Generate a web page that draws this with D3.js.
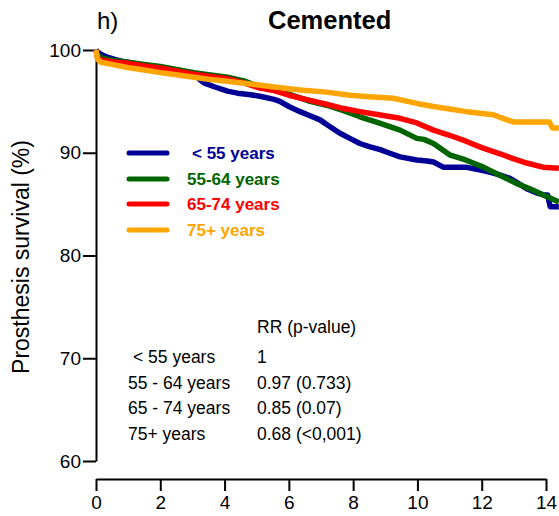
<!DOCTYPE html>
<html>
<head>
<meta charset="utf-8">
<script src="https://cdn.jsdelivr.net/npm/d3@7"></script>
<style>
	body { margin: 0; background: #fff; }
	svg { display: block; font-family: "Liberation Sans", Arial, sans-serif; }
</style>
</head>
<body>
<svg id="chart" width="559" height="516"></svg>
<script>
// Survival curves (years, % survival)
var groups = ["< 55 years", "55-64 years", "65-74 years", "75+ years"]
var colors = ["#000096", "#006400", "#ff0000", "#ffa500"]

var tYoung = [0, 0.05, 0.15, 0.35, 0.56, 0.8, 1.18, 1.6, 2.0, 2.4, 2.74, 3.05, 3.2, 3.36, 3.7, 4.09, 4.4, 4.81, 5.1, 5.54, 5.72, 6.0, 6.35, 6.66, 6.97, 7.2, 7.59, 7.9, 8.21, 8.5, 8.84, 9.1, 9.46, 9.98, 10.3, 10.5, 10.8, 11.5, 12.15, 12.5, 12.88, 13.1, 13.4, 13.7, 13.92, 14.05, 14.13, 14.4]
var vYoung = [100, 99.8, 99.6, 99.3, 99.1, 98.9, 98.7, 98.4, 98.15, 98.0, 97.9, 97.6, 97.2, 96.8, 96.4, 96.0, 95.8, 95.65, 95.5, 95.2, 95.0, 94.5, 94.0, 93.6, 93.2, 92.7, 91.9, 91.4, 90.9, 90.6, 90.3, 90.0, 89.6, 89.3, 89.2, 89.1, 88.6, 88.6, 88.2, 87.9, 87.5, 87.1, 86.5, 86.1, 85.9, 85.9, 84.75, 84.75]

var tMid = [0, 0.05, 0.2, 0.5, 1.0, 1.5, 2.0, 2.5, 3.05, 3.5, 4.09, 4.6, 5.1, 5.54, 6.0, 6.66, 7.2, 7.7, 8.21, 8.8, 9.46, 9.98, 10.2, 10.5, 11.0, 11.5, 12.05, 12.5, 13.09, 13.5, 13.92, 14.4]
var vMid = [100, 99.5, 99.2, 99.0, 98.8, 98.6, 98.4, 98.1, 97.8, 97.6, 97.35, 97.0, 96.4, 96.2, 95.7, 95.0, 94.6, 94.1, 93.5, 92.9, 92.2, 91.4, 91.3, 90.9, 89.8, 89.3, 88.6, 87.9, 87.0, 86.5, 85.9, 85.2]

var tOld = [0, 0.05, 0.2, 0.5, 1.0, 1.5, 2.0, 2.5, 3.05, 3.5, 4.09, 4.6, 5.1, 5.54, 6.0, 6.66, 7.2, 7.7, 8.21, 8.8, 9.46, 9.98, 10.5, 11.0, 11.53, 12.0, 12.57, 13.0, 13.4, 13.9, 14.4]
var vOld = [100, 99.2, 99.0, 98.85, 98.7, 98.45, 98.25, 97.95, 97.65, 97.45, 97.2, 96.8, 96.3, 96.05, 95.6, 95.1, 94.7, 94.3, 94.0, 93.7, 93.35, 92.9, 92.2, 91.7, 91.1, 90.5, 89.9, 89.4, 89.0, 88.6, 88.5]

var tOldest = [0, 0.05, 0.15, 0.5, 0.97, 1.5, 2.0, 2.5, 3.05, 3.5, 4.09, 4.8, 5.54, 6.35, 7.18, 7.9, 8.5, 9.25, 9.98, 10.5, 11.0, 11.53, 12.36, 12.7, 12.98, 13.5, 14.1, 14.2, 14.4]
var vOldest = [100, 99.1, 98.8, 98.6, 98.3, 98.05, 97.8, 97.6, 97.35, 97.15, 96.95, 96.7, 96.4, 96.1, 95.9, 95.6, 95.45, 95.3, 94.8, 94.5, 94.25, 94.0, 93.7, 93.3, 93.0, 93.0, 93.0, 92.4, 92.4]

var xTicks = [0, 2, 4, 6, 8, 10, 12, 14]
var yTicks = [60, 70, 80, 90, 100]

// risk ratio table
var tableRows = ["< 55 years", "55 - 64 years", "65 - 74 years", "75+ years"]
var tableValues = ["1", "0.97 (0.733)", "0.85 (0.07)", "0.68 (<0,001)"]

var svg = d3.select("#chart")

var x = d3.scaleLinear().domain([0, 14]).range([96, 546])
var y = d3.scaleLinear().domain([60, 100]).range([461, 50])

var series = [
	{ t: tYoung, v: vYoung },
	{ t: tMid, v: vMid },
	{ t: tOld, v: vOld },
	{ t: tOldest, v: vOldest }
].map(function (s, i) {
	return { name: groups[i], color: colors[i], points: s.t.map(function (t, j) { return [t, s.v[j]] }) }
})

// y axis
var yAxis = svg.append("g")
	.attr("transform", "translate(96,0)")
	.call(d3.axisLeft(y).tickValues(yTicks).tickSize(13).tickSizeOuter(0).tickPadding(2))
yAxis.selectAll("path, line").attr("stroke", "#000").attr("stroke-width", 2)
yAxis.selectAll("text").attr("font-size", 19).attr("font-family", "Liberation Sans, Arial, sans-serif").attr("fill", "#000")

// x axis, offset below the plot
var xAxis = svg.append("g")
	.attr("transform", "translate(0,479)")
	.call(d3.axisBottom(x).tickValues(xTicks).tickSize(12).tickSizeOuter(0).tickPadding(5))
xAxis.selectAll("path, line").attr("stroke", "#000").attr("stroke-width", 2)
xAxis.selectAll("text").attr("font-size", 19).attr("font-family", "Liberation Sans, Arial, sans-serif").attr("fill", "#000")

// curves (many tiny steps in the original, so a plain polyline through the read points)
var line = d3.line()
	.x(function (d) { return x(d[0]) })
	.y(function (d) { return y(d[1]) })
	.curve(d3.curveLinear)

svg.append("g").selectAll("path")
	.data(series)
	.enter()
	.append("path")
	.attr("d", function (d) { return line(d.points) })
	.attr("fill", "none")
	.attr("stroke", function (d) { return d.color })
	.attr("stroke-width", 5.5)
	.attr("stroke-linejoin", "round")

// titles
svg.append("text").attr("x", 97).attr("y", 29).attr("font-size", 24).text("h)")
svg.append("text").attr("x", 268).attr("y", 29).attr("font-size", 25.5).attr("font-weight", "bold").text("Cemented")
svg.append("text")
	.attr("transform", "translate(29,257) rotate(-90)")
	.attr("text-anchor", "middle")
	.attr("font-size", 23)
	.text("Prosthesis survival (%)")

// legend
var legendY = [153, 179, 204, 230]
var legend = svg.append("g").selectAll("g")
	.data(series)
	.enter()
	.append("g")
	.attr("transform", function (d, i) { return "translate(0," + legendY[i] + ")" })
legend.append("line")
	.attr("x1", 129).attr("x2", 167)
	.attr("stroke", function (d) { return d.color })
	.attr("stroke-width", 5)
	.attr("stroke-linecap", "round")
legend.append("text")
	.attr("x", function (d, i) { return i == 0 ? 192 : 187 })
	.attr("y", 6)
	.attr("font-size", 17)
	.attr("font-weight", "bold")
	.attr("fill", function (d) { return d.color })
	.text(function (d) { return d.name })

// RR table
svg.append("text").attr("x", 257).attr("y", 333).attr("font-size", 17.5).text("RR (p-value)")
var rowY = [363, 389, 414, 440]
var table = svg.append("g").selectAll("g")
	.data(tableRows)
	.enter()
	.append("g")
table.append("text")
	.attr("x", function (d, i) { return i == 0 ? 133 : 128 })
	.attr("y", function (d, i) { return rowY[i] })
	.attr("font-size", 17.5)
	.text(function (d) { return d })
table.append("text")
	.attr("x", 257)
	.attr("y", function (d, i) { return rowY[i] })
	.attr("font-size", 17.5)
	.text(function (d, i) { return tableValues[i] })
</script>
</body>
</html>
